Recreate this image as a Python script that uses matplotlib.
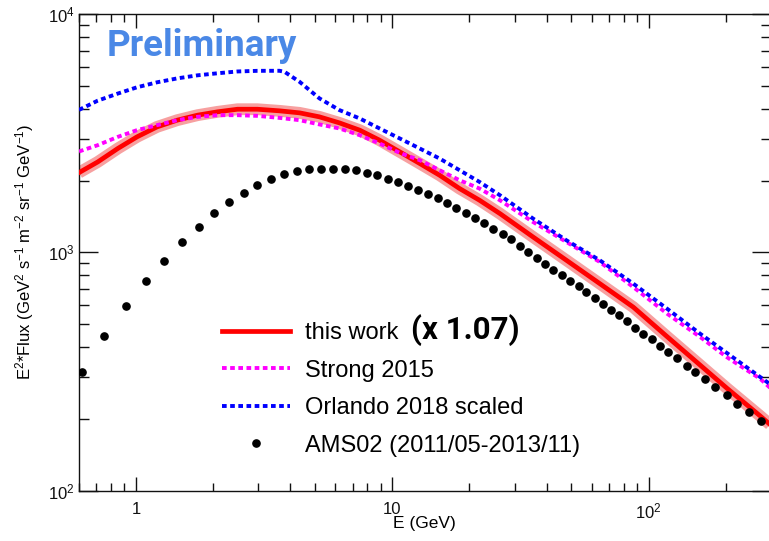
import matplotlib
matplotlib.use('Agg')
import matplotlib.pyplot as plt
from matplotlib.lines import Line2D
from matplotlib.ticker import LogLocator, NullFormatter, FixedLocator, FixedFormatter

plt.rcParams['font.family'] = ['Liberation Sans', 'DejaVu Sans']
plt.rcParams['mathtext.fontset'] = 'custom'
plt.rcParams['mathtext.rm'] = 'Liberation Sans'
plt.rcParams['mathtext.it'] = 'Liberation Sans:italic'
plt.rcParams['mathtext.bf'] = 'Liberation Sans:bold'

# model curves, E in GeV, E^2*Flux
e_model = [0.6, 0.71, 0.85, 1.01, 1.21, 1.45, 1.74, 2.08, 2.49, 2.98, 3.63, 4.35, 5.2,
           6.22, 7.46, 8.92, 10.7, 12.8, 15.3, 18.3, 21.9, 26.3, 35.4, 47.8, 64.5,
           87.1, 118, 159, 202, 272, 300]
this_work = [2160, 2395, 2727, 3051, 3361, 3586, 3763, 3886, 3985, 3985, 3924, 3848, 3702,
             3493, 3256, 2955, 2639, 2359, 2106, 1852, 1654, 1454, 1160, 926, 739,
             589, 443, 336, 269, 206, 188]
strong2015 = [2650, 2816, 3051, 3256, 3417, 3586, 3702, 3763, 3763, 3738, 3666, 3586, 3441,
              3310, 3102, 2862, 2614, 2436, 2211, 2007, 1852, 1654, 1341, 1105, 911,
              715, 553, 441, 363, 295, 268]

e_orlando = [0.6, 0.71, 0.85, 1.01, 1.21, 1.45, 1.74, 2.08, 2.49, 2.98, 3.63, 3.8, 4.35,
             5.2, 6.22, 7.46, 8.92, 10.7, 12.8, 15.3, 18.3, 21.9, 26.3, 35.4, 47.8,
             64.5, 87.1, 118, 159, 202, 272, 300]
orlando2018 = [3960, 4330, 4636, 4926, 5170, 5369, 5530, 5640, 5740, 5775, 5778, 5720, 5194,
               4425, 3953, 3646, 3310, 3004, 2727, 2475, 2211, 1974, 1736, 1386, 1123,
               926, 739, 580, 455, 378, 300, 278]

# AMS02 data points
e_ams = [0.617, 0.754, 0.919, 1.100, 1.286, 1.507, 1.762, 2.017, 2.308, 2.633, 2.970, 3.368,
         3.796, 4.255, 4.753, 5.262, 5.861, 6.528, 7.209, 7.958, 8.708, 9.612, 10.52, 11.51,
         12.59, 13.77, 15.07, 16.35, 17.78, 19.33, 21.10, 22.73, 24.72, 26.98, 29.11, 31.43,
         33.86, 36.52, 39.35, 42.40, 45.84, 49.27, 53.30, 56.90, 61.52, 66.13, 71.06, 76.78,
         82.05, 88.58, 95.26, 102.7, 110.7, 118.7, 128.7, 140.8, 151.7, 165.9, 181.6, 201.7,
         220.7, 247.2, 274.7]
f_ams = [314, 444, 593, 755, 917, 1102, 1277, 1463, 1627, 1775, 1925, 2026,
         2141, 2196, 2228, 2240, 2240, 2228, 2205, 2160, 2105, 2035, 1972, 1905,
         1835, 1755, 1688, 1612, 1535, 1460, 1390, 1322, 1250, 1190, 1134, 1063,
         1003, 950, 897, 840, 800, 755, 720, 679, 643, 609, 574, 544,
         513, 483, 455, 431, 403, 381, 360, 335, 314, 293, 272, 251,
         231, 213, 197]

x_ticks = [1, 10, 100]
x_ticklabels = ['1', '10', '$10^{2}$']
y_ticks = [100, 1000, 10000]
y_ticklabels = ['$10^{2}$', '$10^{3}$', '$10^{4}$']

fig = plt.figure(figsize=(7.69, 5.41), dpi=100)
W, H = 769.0, 541.0
ax = fig.add_axes([79 / W, 1 - 490.7 / H, (771 - 79) / W, (490.7 - 14) / H])

dotted = (0, (1.2, 0.9))

# band + central line for this work
ax.plot(e_model, this_work, color='#f7a0a0', lw=8.5, solid_capstyle='butt', zorder=2)
ax.plot(e_model, this_work, color='#ff0000', lw=3.4, zorder=3)
ax.plot(e_model, strong2015, color='#ff00ff', lw=2.8, ls=dotted, zorder=4)
ax.plot(e_orlando, orlando2018, color='#0000ff', lw=2.8, ls=dotted, zorder=5)
ax.plot(e_ams, f_ams, ls='none', marker='o', ms=5.2, color='black', zorder=6)

ax.set_xscale('log')
ax.set_yscale('log')
ax.set_xlim(0.6, 300)
ax.set_ylim(100, 10000)

ax.xaxis.set_major_locator(FixedLocator(x_ticks))
ax.xaxis.set_major_formatter(FixedFormatter(x_ticklabels))
ax.xaxis.set_minor_locator(LogLocator(base=10, subs=[2, 3, 4, 5, 6, 7, 8, 9]))
ax.xaxis.set_minor_formatter(NullFormatter())
ax.yaxis.set_major_locator(FixedLocator(y_ticks))
ax.yaxis.set_major_formatter(FixedFormatter(y_ticklabels))
ax.yaxis.set_minor_locator(LogLocator(base=10, subs=[2, 3, 4, 5, 6, 7, 8, 9]))
ax.yaxis.set_minor_formatter(NullFormatter())

ax.tick_params(which='both', direction='in', top=True, right=True, width=1.0, colors='#111111')
ax.tick_params(axis='x', which='major', length=10, pad=8, labelsize=12)
ax.tick_params(axis='x', which='minor', length=5.5)
ax.tick_params(axis='y', which='major', length=14, pad=3, labelsize=12)
ax.tick_params(axis='y', which='minor', length=7)
for s in ax.spines.values():
    s.set_linewidth(1.0)
    s.set_color('#111111')

fig.text(393 / W, 1 - 528 / H, 'E (GeV)', fontsize=12.5, ha='left', va='baseline')
fig.text(25 / W, 1 - 252 / H,
         'E$^{2}$*Flux (GeV$^{2}$ s$^{-1}$ m$^{-2}$ sr$^{-1}$ GeV$^{-1}$)',
         fontsize=12, rotation=90, ha='center', va='center')

fig.text(107 / W, 1 - 56 / H, 'Preliminary', fontsize=26.5, fontweight='bold',
         family=['Roboto', 'DejaVu Sans'], color='#4a88e6', ha='left', va='baseline')

handles = [
    Line2D([], [], color='#ff0000', lw=3.4),
    Line2D([], [], color='#ff00ff', lw=2.8, ls=dotted),
    Line2D([], [], color='#0000ff', lw=2.8, ls=dotted),
    Line2D([], [], ls='none', marker='o', ms=5.2, color='black'),
]
labels = ['this work', 'Strong 2015', 'Orlando 2018 scaled', 'AMS02 (2011/05-2013/11)']
fig.legend(handles, labels, loc='upper left', bbox_to_anchor=(222 / W, 1 - 322 / H),
           frameon=False, fontsize=17, handlelength=2.9, handletextpad=0.62,
           labelspacing=0.66, borderpad=0, borderaxespad=0, numpoints=1)

fig.text(411 / W, 1 - 330 / H, '(x 1.07)', fontsize=22.5, fontweight='bold',
         family=['Roboto', 'DejaVu Sans'], ha='left', va='center')

fig.savefig('out.png', dpi=100)
